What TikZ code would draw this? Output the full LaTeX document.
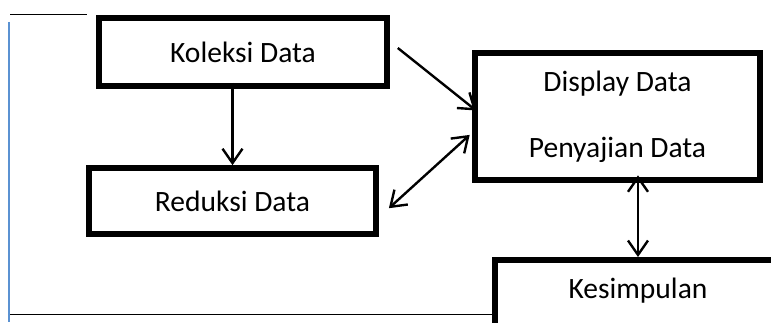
\documentclass[tikz,border=0pt]{standalone}
\usepackage{fontspec}
\setmainfont{Carlito}
\usepackage{tikz}
\usetikzlibrary{arrows.meta,positioning,calc}
\definecolor{garisbiru}{RGB}{91,146,210}
\tikzset{
  kotak/.style={rectangle,draw=black,line width=4pt,fill=white,font=\fontsize{21}{25}\selectfont},
  panah/.style={line width=1.7pt,>={Straight Barb[length=0.36cm,width=0.5cm]}},
  garis/.style={line width=1.4pt}
}
\begin{document}
\begin{tikzpicture}
\useasboundingbox (0,0) rectangle (19.275,8.05);
\node[kotak,minimum width=7.2cm,minimum height=1.7cm] (kol) at (6.075,6.75){Koleksi Data};
 \node[kotak,minimum width=7.18cm,minimum height=1.65cm] (red) at (5.8125,3.025){Reduksi Data};
   \node[kotak,minimum width=7.13cm,minimum height=3.18cm,align=center] (disp) at (15.4375,5.1375){Display Data\\[0.78cm]Penyajian Data};
   \node[kotak,minimum width=7.15cm,anchor=north,inner ysep=13pt,text depth=1cm] (kes) at (15.95,1.625){Kesimpulan};
    \draw[panah,->] ($(red.north |- kol.south)+(0,0.15)$) to (red.north);
    \draw[panah,->] ([shift={(0.2,0.1)}]kol.east) to ([shift={(0.1,0.15)}]disp.west);
    \draw[panah,<->] ([shift={(0.25,-0.18)}]red.east) to ([shift={(-0.06,-0.46)}]disp.west);
    \draw[panah,<->] ($(kes.north |- disp.south)+(0,0.19)$) to (kes.north);
% garis tepi
\coordinate (ka) at (0.25,7.6875);
\coordinate (kb) at (2.175,7.6875);
\coordinate (ba) at (0.225,7.5);
\coordinate (bb) at (0.225,0);
\coordinate (bw) at (0.25,0.1875);
    \draw[garis] (ka) -- (kb);
    \draw[garis,garisbiru] (ba) -- (bb);
    \draw[garis] (bw) -- (bw -| kes.west);
\end{tikzpicture}
\end{document}
